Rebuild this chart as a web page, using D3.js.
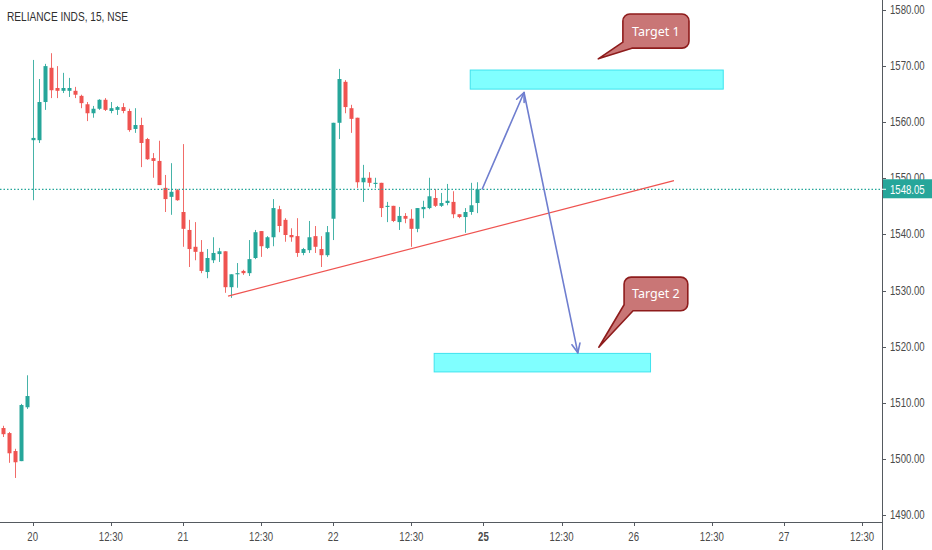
<!DOCTYPE html>
<html>
<head>
<meta charset="utf-8">
<script src="https://cdn.jsdelivr.net/npm/d3@7"></script>
<style>
  html, body { margin: 0; padding: 0; background: #ffffff; }
  svg { display: block; }
  .ax { font-family: "Liberation Sans", Arial, sans-serif; font-size: 12px; fill: #4a4a4a; }
</style>
</head>
<body>
<svg id="chart" width="932" height="550"></svg>
<script>
// ---------------- data ----------------
const title = "RELIANCE INDS, 15, NSE";
const firstBar = -5;   // bar index of the first candle (index 0 = 20th, 09:15)
const open  = [1505.5,1504.6,1501.4,1499.6,1509.2,
  1556.8,1556.8,1563.6,1569.7,1566.1,1565.6,1565.6,1565.6,1564.7,1563.2,1561.6,1562.4,1564.0,1562.0,1562.2,1562.7,1562.0,1558.8,1559.5,1557.0,1553.6,1553.1,1548.3,1546.7,1547.9,
  1544.0,1540.8,1537.8,1536.9,1533.3,1535.4,1536.5,1537.0,1530.6,1532.9,1533.5,1533.1,1535.8,1540.6,1537.6,1539.5,1544.5,1542.6,1539.9,1539.7,1536.7,1537.2,1539.7,1537.4,1536.3,
  1542.8,1559.9,1567.2,1562.5,1560.8,1549.3,1550.1,1549.0,1549.2,1544.9,1545.1,1542.2,1543.3,1542.8,1541.0,1544.5,1544.7,1546.5,1545.1,1545.6,1545.8,1543.6,1543.1,1544.0,1545.6];
const high  = [1505.9,1504.8,1501.8,1509.8,1514.9,
  1571.1,1567.7,1570.4,1572.3,1570.0,1568.8,1567.9,1566.3,1564.9,1563.6,1562.9,1564.1,1564.3,1563.6,1562.9,1563.4,1562.4,1562.5,1560.8,1557.2,1554.5,1556.7,1550.6,1552.7,1548.1,
  1556.1,1542.6,1542.2,1539.0,1537.4,1539.5,1537.6,1537.0,1532.9,1534.9,1533.7,1539.0,1540.8,1540.6,1539.7,1546.3,1545.1,1542.9,1541.1,1542.9,1537.6,1542.4,1541.5,1539.7,1541.5,
  1559.9,1569.5,1567.5,1563.1,1560.8,1552.4,1551.1,1550.1,1549.2,1545.8,1545.1,1544.9,1543.8,1544.5,1544.7,1546.0,1550.1,1548.1,1547.4,1549.0,1547.7,1543.6,1544.7,1549.2,1549.3];
const low   = [1503.9,1499.3,1496.6,1499.6,1508.9,
  1546.1,1556.3,1562.2,1564.3,1564.3,1565.2,1564.5,1564.3,1562.5,1560.2,1560.8,1562.2,1562.0,1561.6,1561.3,1561.6,1558.3,1558.1,1552.0,1553.3,1550.1,1548.8,1544.0,1543.5,1546.0,
  1537.8,1534.2,1535.4,1533.1,1532.2,1534.9,1535.1,1529.6,1528.7,1530.5,1532.8,1532.6,1535.6,1536.0,1537.4,1537.9,1540.4,1538.7,1538.7,1536.0,1536.3,1536.7,1536.7,1534.2,1536.0,
  1539.0,1557.0,1561.6,1558.1,1548.3,1545.8,1548.5,1548.3,1543.1,1542.2,1542.2,1540.8,1542.0,1537.8,1540.4,1542.9,1544.5,1544.9,1544.9,1545.2,1542.9,1542.9,1540.3,1543.5,1543.8];
const close = [1504.4,1501.0,1499.4,1509.6,1511.2,
  1557.2,1563.6,1570.0,1565.7,1565.6,1566.1,1566.1,1564.9,1563.4,1561.6,1562.4,1564.0,1562.2,1562.5,1562.7,1562.0,1558.6,1559.5,1556.3,1553.4,1553.1,1548.8,1546.3,1547.6,1546.1,
  1541.0,1537.4,1536.9,1533.5,1535.8,1536.7,1537.0,1530.6,1532.9,1533.1,1533.1,1535.6,1540.4,1537.9,1539.5,1544.7,1541.5,1539.9,1539.5,1536.7,1537.4,1539.5,1537.8,1536.3,1540.4,
  1559.9,1567.7,1562.7,1560.6,1549.3,1550.1,1549.2,1549.2,1544.7,1545.1,1542.4,1543.3,1542.8,1541.0,1544.7,1544.9,1546.8,1545.1,1545.6,1546.0,1543.6,1543.1,1544.0,1545.2,1548.05];
const lastPrice = 1548.05;

const xTickBars   = [0, 13, 25, 38, 50, 63, 75, 88, 100, 113, 125, 138];
const xTickLabels = ["20","12:30","21","12:30","22","12:30","25","12:30","26","12:30","27","12:30"];
const yTicks = [1490,1500,1510,1520,1530,1540,1550,1560,1570,1580];

// drawings (bar index, price)
const trendLine = [[32.5, 1529.0], [106.7, 1549.6]];
const zone1 = {b0: 72.8, b1: 114.9, p0: 1569.3, p1: 1565.9};
const zone2 = {b0: 66.8, b1: 102.8, p0: 1518.8, p1: 1515.5};
const upArrow   = [[74.8, 1548.1], [81.75, 1565.3]];
const downArrow = [[81.75, 1565.3], [90.7, 1518.9]];
const callouts = [
  {text: "Target 1", b0: 98.2, b1: 109.2, p0: 1579.3, p1: 1573.2, tipB: 94.1, tipP: 1571.3},
  {text: "Target 2", b0: 98.4, b1: 109.0, p0: 1532.4, p1: 1526.4, tipB: 94.2, tipP: 1519.9}
];

// ---------------- drawing ----------------
const W = 932, H = 550;
const plotR = 882, plotB = 522;
const svg = d3.select("#chart");

const x = d3.scaleLinear().domain([-32.7/6.01, (plotR-32.7)/6.01]).range([0, plotR]);
const y = d3.scaleLinear().domain([1490, 1580]).range([515, 10]);

const bars = open.map((o, k) => ({i: firstBar + k, o, h: high[k], l: low[k], c: close[k]}));
const UP = "#26a69a", DN = "#ef5350";

// condense axis text horizontally (narrow look of the reference labels)
function condense(sel, f) {
  sel.each(function () {
    const w = this.getComputedTextLength();
    d3.select(this).attr("textLength", w * f).attr("lengthAdjust", "spacingAndGlyphs");
  });
}

svg.append("defs").append("clipPath").attr("id", "clip")
  .append("rect").attr("x", 0).attr("y", 0).attr("width", plotR).attr("height", plotB);

const plot = svg.append("g").attr("clip-path", "url(#clip)");

// candles
const cg = plot.append("g");
const bw = 4;
cg.selectAll("line.wick").data(bars).join("line")
  .attr("x1", d => Math.round(x(d.i)) + 0.5).attr("x2", d => Math.round(x(d.i)) + 0.5)
  .attr("y1", d => y(d.h)).attr("y2", d => y(d.l))
  .attr("stroke", d => d.c >= d.o ? UP : DN).attr("stroke-width", 1).attr("opacity", 0.85);
cg.selectAll("rect.body").data(bars).join("rect")
  .attr("x", d => Math.round(x(d.i)) + 0.5 - bw/2)
  .attr("y", d => y(Math.max(d.o, d.c)))
  .attr("width", bw)
  .attr("height", d => Math.max(1, Math.abs(y(d.o) - y(d.c))))
  .attr("fill", d => d.c >= d.o ? UP : DN);

// last price dotted line
plot.append("line")
  .attr("x1", 0).attr("x2", plotR)
  .attr("y1", y(lastPrice)).attr("y2", y(lastPrice))
  .attr("stroke", UP).attr("stroke-width", 1.2).attr("stroke-dasharray", "1.5,2");

// trend line
plot.append("line")
  .attr("x1", x(trendLine[0][0])).attr("y1", y(trendLine[0][1]))
  .attr("x2", x(trendLine[1][0])).attr("y2", y(trendLine[1][1]))
  .attr("stroke", "#ef5350").attr("stroke-width", 1.2);

// target zones
[zone1, zone2].forEach(z => {
  plot.append("rect")
    .attr("x", x(z.b0)).attr("y", y(z.p0))
    .attr("width", x(z.b1) - x(z.b0)).attr("height", y(z.p1) - y(z.p0))
    .attr("fill", "#80ffff").attr("stroke", "#3fe3ee").attr("stroke-width", 1);
});

// arrows
const arrowColor = "#6f7ecf";
function arrow(seg) {
  const x1 = x(seg[0][0]), y1 = y(seg[0][1]), x2 = x(seg[1][0]), y2 = y(seg[1][1]);
  plot.append("line").attr("x1", x1).attr("y1", y1).attr("x2", x2).attr("y2", y2)
    .attr("stroke", arrowColor).attr("stroke-width", 1.6).attr("stroke-linecap", "round");
  const ang = Math.atan2(y1 - y2, x1 - x2);
  const L = 10, a = 0.42;
  const p = [[x2 + L*Math.cos(ang + a), y2 + L*Math.sin(ang + a)], [x2, y2], [x2 + L*Math.cos(ang - a), y2 + L*Math.sin(ang - a)]];
  plot.append("path").attr("d", d3.line()(p)).attr("fill", "none")
    .attr("stroke", arrowColor).attr("stroke-width", 1.6).attr("stroke-linecap", "round").attr("stroke-linejoin", "round");
}
arrow(upArrow);
arrow(downArrow);

// callouts
callouts.forEach(c => {
  const x0 = x(c.b0), x1 = x(c.b1), y0 = y(c.p0), y1 = y(c.p1);
  const tx = x(c.tipB), ty = y(c.tipP), r = 7;
  const d = `M${tx},${ty} L${x0+9},${y1} L${x1-r},${y1} A${r},${r} 0 0 0 ${x1},${y1-r} L${x1},${y0+r} A${r},${r} 0 0 0 ${x1-r},${y0} L${x0+r},${y0} A${r},${r} 0 0 0 ${x0},${y0+r} L${x0},${y1-6} Z`;
  plot.append("path").attr("d", d).attr("fill", "#c97676").attr("stroke", "#8e1c1c").attr("stroke-width", 1.6).attr("stroke-linejoin", "round");
  plot.append("text").attr("x", (x0 + x1)/2).attr("y", (y0 + y1)/2 + 4.5)
    .attr("text-anchor", "middle").attr("fill", "#ffffff")
    .style("font-family", "'Noto Sans', 'Open Sans', sans-serif").style("font-size", "12.5px")
    .text(c.text);
});

// axes
const axisColor = "#555a60";
svg.append("line").attr("x1", plotR + 0.5).attr("x2", plotR + 0.5).attr("y1", 0).attr("y2", H)
  .attr("stroke", axisColor).attr("stroke-width", 1);
svg.append("line").attr("x1", 0).attr("x2", plotR).attr("y1", plotB + 0.5).attr("y2", plotB + 0.5)
  .attr("stroke", axisColor).attr("stroke-width", 1);

const yg = svg.append("g");
yg.selectAll("line").data(yTicks).join("line")
  .attr("x1", plotR).attr("x2", plotR + 4)
  .attr("y1", d => Math.round(y(d)) + 0.5).attr("y2", d => Math.round(y(d)) + 0.5)
  .attr("stroke", axisColor);
yg.selectAll("text").data(yTicks).join("text")
  .attr("class", "ax").attr("x", plotR + 8).attr("y", d => y(d) + 4)
  .text(d => d3.format(".2f")(d))
  .call(condense, 0.8);

const xg = svg.append("g");
xg.selectAll("line").data(xTickBars).join("line")
  .attr("x1", d => Math.round(x(d)) + 0.5).attr("x2", d => Math.round(x(d)) + 0.5)
  .attr("y1", plotB).attr("y2", plotB + 4)
  .attr("stroke", axisColor);
xg.selectAll("text").data(xTickBars).join("text")
  .attr("class", "ax").attr("x", d => x(d)).attr("y", 541)
  .attr("text-anchor", "middle")
  .style("font-weight", (d, k) => xTickLabels[k] === "25" ? "bold" : "normal")
  .text((d, k) => xTickLabels[k])
  .call(condense, 0.8);

// last price label
const ly = y(lastPrice);
svg.append("rect").attr("x", plotR + 1).attr("y", ly - 10).attr("width", W - plotR - 1).attr("height", 19)
  .attr("fill", UP);
svg.append("line").attr("x1", plotR).attr("x2", plotR + 4).attr("y1", ly).attr("y2", ly).attr("stroke", "#ffffff");
svg.append("text").attr("class", "ax").attr("x", plotR + 8).attr("y", ly + 4.5)
  .style("fill", "#ffffff").text(d3.format(".2f")(lastPrice))
  .call(condense, 0.8);

// title
svg.append("text").attr("x", 7).attr("y", 21)
  .attr("textLength", 121).attr("lengthAdjust", "spacingAndGlyphs")
  .style("font-family", "'Liberation Sans', 'Open Sans', sans-serif").style("font-size", "13px")
  .style("fill", "#2f2f2f")
  .text(title);
</script>
</body>
</html>
